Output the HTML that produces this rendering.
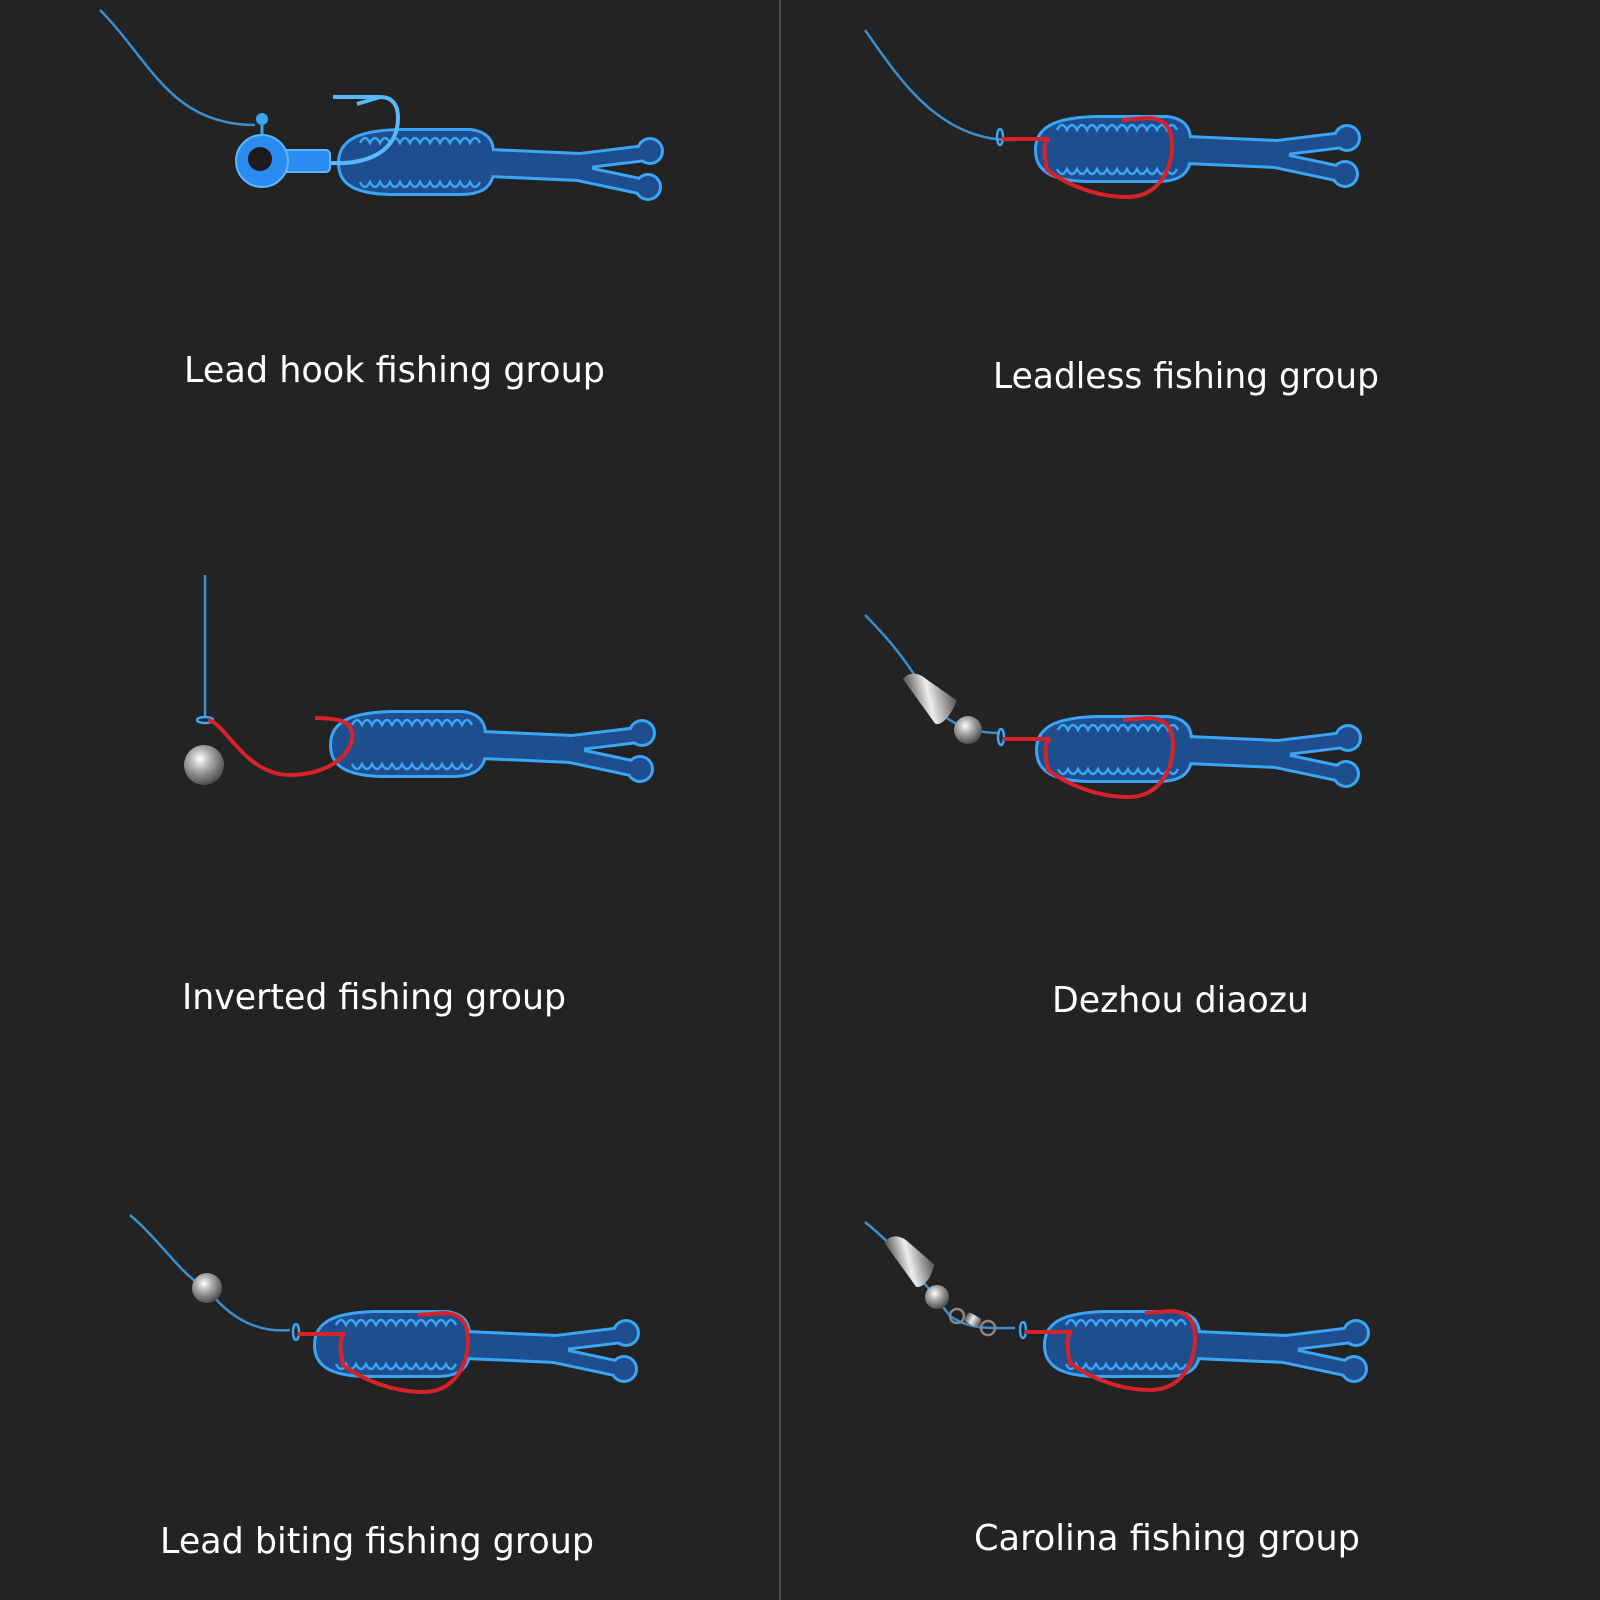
<!DOCTYPE html>
<html><head><style>
html,body{margin:0;padding:0;background:#232323;}
svg{display:block}
text{font-family:"DejaVu Sans","Liberation Sans",sans-serif;fill:#fff;font-size:36px}
</style></head><body>
<svg width="1600" height="1600" viewBox="0 0 1600 1600" xmlns="http://www.w3.org/2000/svg">
<defs>
<radialGradient id="ball" cx="0.4" cy="0.35" r="0.7">
<stop offset="0" stop-color="#fff"/><stop offset="0.4" stop-color="#aaa"/><stop offset="1" stop-color="#444"/>
</radialGradient>
<linearGradient id="bul" x1="0" y1="0" x2="1" y2="0">
<stop offset="0" stop-color="#555"/><stop offset="0.45" stop-color="#eee"/><stop offset="1" stop-color="#555"/>
</linearGradient>
<g id="worm">
<g fill="#3aa6f5" stroke="#3aa6f5" stroke-linecap="round">
<path d="M0,0 C0,-25 25,-31 60,-32 L130,-32 C148,-30 152,-20 152,-10 L152,10 C150,24 140,30 120,30 L50,30 C15,29 0,20 0,0Z" stroke-width="6"/>
<line x1="150" y1="0" x2="240" y2="4" stroke-width="30"/>
<line x1="240" y1="-2" x2="306" y2="-10" stroke-width="18"/>
<line x1="238" y1="10" x2="304" y2="24" stroke-width="18"/>
<circle cx="310" cy="-12" r="14" stroke="none"/>
<circle cx="308" cy="24" r="14" stroke="none"/>
</g>
<g fill="#1f4e8e" stroke="#1f4e8e" stroke-linecap="round">
<path d="M0,0 C0,-25 25,-31 60,-32 L130,-32 C148,-30 152,-20 152,-10 L152,10 C150,24 140,30 120,30 L50,30 C15,29 0,20 0,0Z" stroke="none"/>
<line x1="150" y1="0" x2="240" y2="4" stroke-width="24"/>
<line x1="240" y1="-2" x2="306" y2="-10" stroke-width="12"/>
<line x1="238" y1="10" x2="304" y2="24" stroke-width="12"/>
<circle cx="310" cy="-12" r="11" stroke="none"/>
<circle cx="308" cy="24" r="11" stroke="none"/>
</g>
<path d="M20,-20 q5,-10 10,0 q5,-10 10,0 q5,-10 10,0 q5,-10 10,0 q5,-10 10,0 q5,-10 10,0 q5,-10 10,0 q5,-10 10,0 q5,-10 10,0 q5,-10 10,0 q5,-10 10,0 q5,-10 10,0 M20,19 q5,10 10,0 q5,10 10,0 q5,10 10,0 q5,10 10,0 q5,10 10,0 q5,10 10,0 q5,10 10,0 q5,10 10,0 q5,10 10,0 q5,10 10,0 q5,10 10,0 q5,10 10,0" fill="none" stroke="#3aa6f5" stroke-width="2.5"/>
</g>
<g id="texas">
<ellipse cx="-37" cy="-13" rx="3" ry="8" fill="none" stroke="#3aa6f5" stroke-width="2.5"/>
<path d="M-35,-11 L12,-11 C5,-8 8,10 10,20 C30,35 60,47 90,47 C120,47 135,22 135,-5 C135,-25 125,-32 110,-32 L85,-30" fill="none" stroke="#d8222a" stroke-width="4"/>
</g>
</defs>

<line x1="780" y1="0" x2="780" y2="1600" stroke="#4a4a4a" stroke-width="2"/>

<path d="M100,10 C150,60 170,125 255,125" fill="none" stroke="#3a8fd0" stroke-width="2.5"/>
<use href="#worm" x="340" y="163"/>
<circle cx="262" cy="119" r="6" fill="#3aa6f5"/>
<line x1="262" y1="125" x2="262" y2="138" stroke="#3aa6f5" stroke-width="3"/>
<rect x="270" y="150" width="60" height="22" rx="4" fill="#2a8cf0" stroke="#5ab8ff" stroke-width="2"/>
<circle cx="262" cy="161" r="26" fill="#2a8cf0" stroke="#5ab8ff" stroke-width="2"/>
<circle cx="260" cy="159" r="12" fill="#1c1c1c"/>
<path d="M330,163 C370,165 398,150 398,118 C398,102 390,97 380,97 L333,97 M380,97 L357,104" fill="none" stroke="#5ab8ff" stroke-width="4"/>

<path d="M865,30 C900,80 940,142 1015,140" fill="none" stroke="#3a8fd0" stroke-width="2.5"/>
<use href="#worm" x="1037" y="150"/>
<use href="#texas" x="1037" y="150"/>

<line x1="205" y1="575" x2="205" y2="718" stroke="#3a8fd0" stroke-width="2.5"/>
<use href="#worm" x="332" y="745"/>
<ellipse cx="205" cy="720" rx="8" ry="3" fill="none" stroke="#3aa6f5" stroke-width="2.5"/>
<circle cx="204" cy="765" r="20" fill="url(#ball)"/>
<path d="M208,720 C225,722 245,775 290,775 C330,775 356,752 352,732 C350,722 340,718 315,718" fill="none" stroke="#d8222a" stroke-width="4"/>

<path d="M865,615 C890,640 910,665 930,700 C945,725 975,733 1000,733" fill="none" stroke="#3a8fd0" stroke-width="2.5"/>
<use href="#worm" x="1038" y="750"/>
<use href="#texas" x="1038" y="750"/>
<path d="M908,674 C914,668 924,670 930,678 L956,706 C946,722 934,728 930,724 Z" fill="url(#bul)" transform="rotate(-12 930 700)"/>
<circle cx="968" cy="730" r="14" fill="url(#ball)"/>

<path d="M130,1215 C160,1240 185,1280 207,1288 C230,1320 260,1333 290,1330" fill="none" stroke="#3a8fd0" stroke-width="2.5"/>
<use href="#worm" x="316" y="1345"/>
<use href="#texas" x="333" y="1345"/>
<circle cx="207" cy="1288" r="15" fill="url(#ball)"/>

<path d="M865,1222 C900,1250 930,1290 950,1316 C970,1330 990,1328 1015,1328" fill="none" stroke="#3a8fd0" stroke-width="2.5"/>
<use href="#worm" x="1046" y="1345"/>
<use href="#texas" x="1060" y="1343"/>
<path d="M890,1237 C896,1230 906,1232 912,1240 L933,1270 C925,1285 915,1290 910,1287 Z" fill="url(#bul)" transform="rotate(-14 912 1262)"/>
<circle cx="937" cy="1297" r="12" fill="url(#ball)"/>
<circle cx="957" cy="1316" r="7" fill="none" stroke="#888" stroke-width="2.5"/>
<rect x="965" y="1315" width="16" height="10" rx="3" fill="url(#bul)" transform="rotate(30 973 1320)"/>
<circle cx="988" cy="1328" r="7" fill="none" stroke="#888" stroke-width="2.5"/>

<text x="184" y="382" textLength="421" lengthAdjust="spacingAndGlyphs">Lead hook fishing group</text>
<text x="993" y="388" textLength="386" lengthAdjust="spacingAndGlyphs">Leadless fishing group</text>
<text x="182" y="1009" textLength="384" lengthAdjust="spacingAndGlyphs">Inverted fishing group</text>
<text x="1052" y="1012" textLength="257" lengthAdjust="spacingAndGlyphs">Dezhou diaozu</text>
<text x="160" y="1553" textLength="434" lengthAdjust="spacingAndGlyphs">Lead biting fishing group</text>
<text x="974" y="1550" textLength="386" lengthAdjust="spacingAndGlyphs">Carolina fishing group</text>
</svg>
</body></html>
